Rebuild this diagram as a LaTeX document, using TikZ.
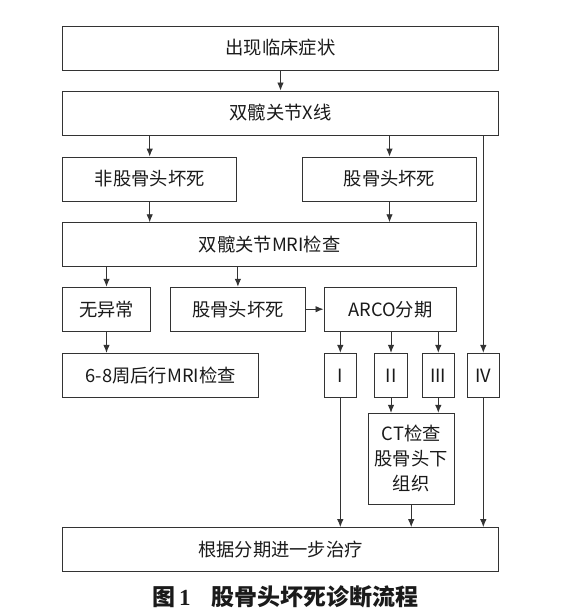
\documentclass[tikz,border=0pt]{standalone}
\usepackage{fontspec}
\newfontfamily\cjk{Noto Sans CJK SC}
\newfontfamily\capserif{Liberation Serif}
\usetikzlibrary{arrows.meta}
\definecolor{ln}{HTML}{333333}
\definecolor{tx}{HTML}{1A1A1A}
\begin{document}
\begin{tikzpicture}[x=1pt,y=-1pt,
  box/.style={draw=ln,line width=0.9pt,minimum height=44pt,inner sep=0pt,text=tx,
    font=\cjk\fontsize{18.3}{25}\selectfont,align=center},
  arr/.style={draw=ln,line width=0.9pt,-{Latex[length=8pt,width=6.5pt]}},
  ln0/.style={draw=ln,line width=0.9pt}]
\useasboundingbox[fill=white] (0,0) rectangle (575,615);
\node[box,minimum width=435.5pt] (top) at (280.5,48) {出现临床症状};
\node[box,minimum width=435.5pt] (xray) at (280.5,113) {双髋关节X线};
\node[box,minimum width=174pt] (non) at (149.7,179) {非股骨头坏死};
\node[box,minimum width=174.4pt] (fem1) at (389.5,179) {股骨头坏死};
\node[box,minimum width=414pt] (mri) at (269.7,244.7) {双髋关节MRI检查};
\node[box,minimum width=87.6pt] (noab) at (106.5,309.2) {无异常};
\node[box,minimum width=134.3pt] (fem2) at (237.9,309.2) {股骨头坏死};
\node[box,minimum width=132.7pt] (arco) at (390.3,309.2) {ARCO分期};
\node[box,minimum width=196pt] (wk) at (160.7,375.3) {6-8周后行MRI检查};
\node[box,minimum width=32.7pt] (s1) at (340.3,375.3) {I};
\node[box,minimum width=32.7pt] (s2) at (391,375.3) {II};
\node[box,minimum width=32.7pt] (s3) at (438.3,375.3) {III};
\node[box,minimum width=32pt] (s4) at (483.3,375.3) {IV};
\node[box,minimum width=86.3pt,minimum height=91pt] (ct) at (411.2,458.8) {CT检查\\股骨头下\\组织};
\node[box,minimum width=435.5pt,minimum height=43.5pt] (fin) at (280.5,549.3) {根据分期进一步治疗};
\node[text=tx,anchor=west,inner sep=0pt,font=\cjk\bfseries\fontsize{23}{26}\selectfont] (cap) at (152,597) {图\hspace{4pt}{\capserif 1}\hspace{21pt}股骨头坏死诊断流程};
\draw[arr] (top) -- (xray);
\draw[arr] (xray.south -| non) -- (non);
\draw[arr] (xray.south -| fem1) -- (fem1);
\draw[arr] (non) -- (non |- mri.north);
\draw[arr] (fem1) -- (fem1 |- mri.north);
\draw[arr] (mri.south -| noab) -- (noab);
\draw[arr] (mri.south -| fem2) -- (fem2);
\draw[arr] (noab) -- (wk.north -| noab);
\draw[arr] (fem2) -- (arco);
\draw[arr] (arco.south -| s1) -- (s1);
\draw[arr] (arco.south -| s2) -- (s2);
\draw[arr] (arco.south -| s3) -- (s3);
\draw[arr] (xray.south -| s4) -- (s4);
\draw[arr] (s2) -- (s2 |- ct.north);
\draw[arr] (s3) -- (s3 |- ct.north);
\draw[arr] (s1) -- (s1 |- fin.north);
\draw[arr] (ct) -- (ct |- fin.north);
\draw[arr] (s4) -- (s4 |- fin.north);
\end{tikzpicture}
\end{document}
